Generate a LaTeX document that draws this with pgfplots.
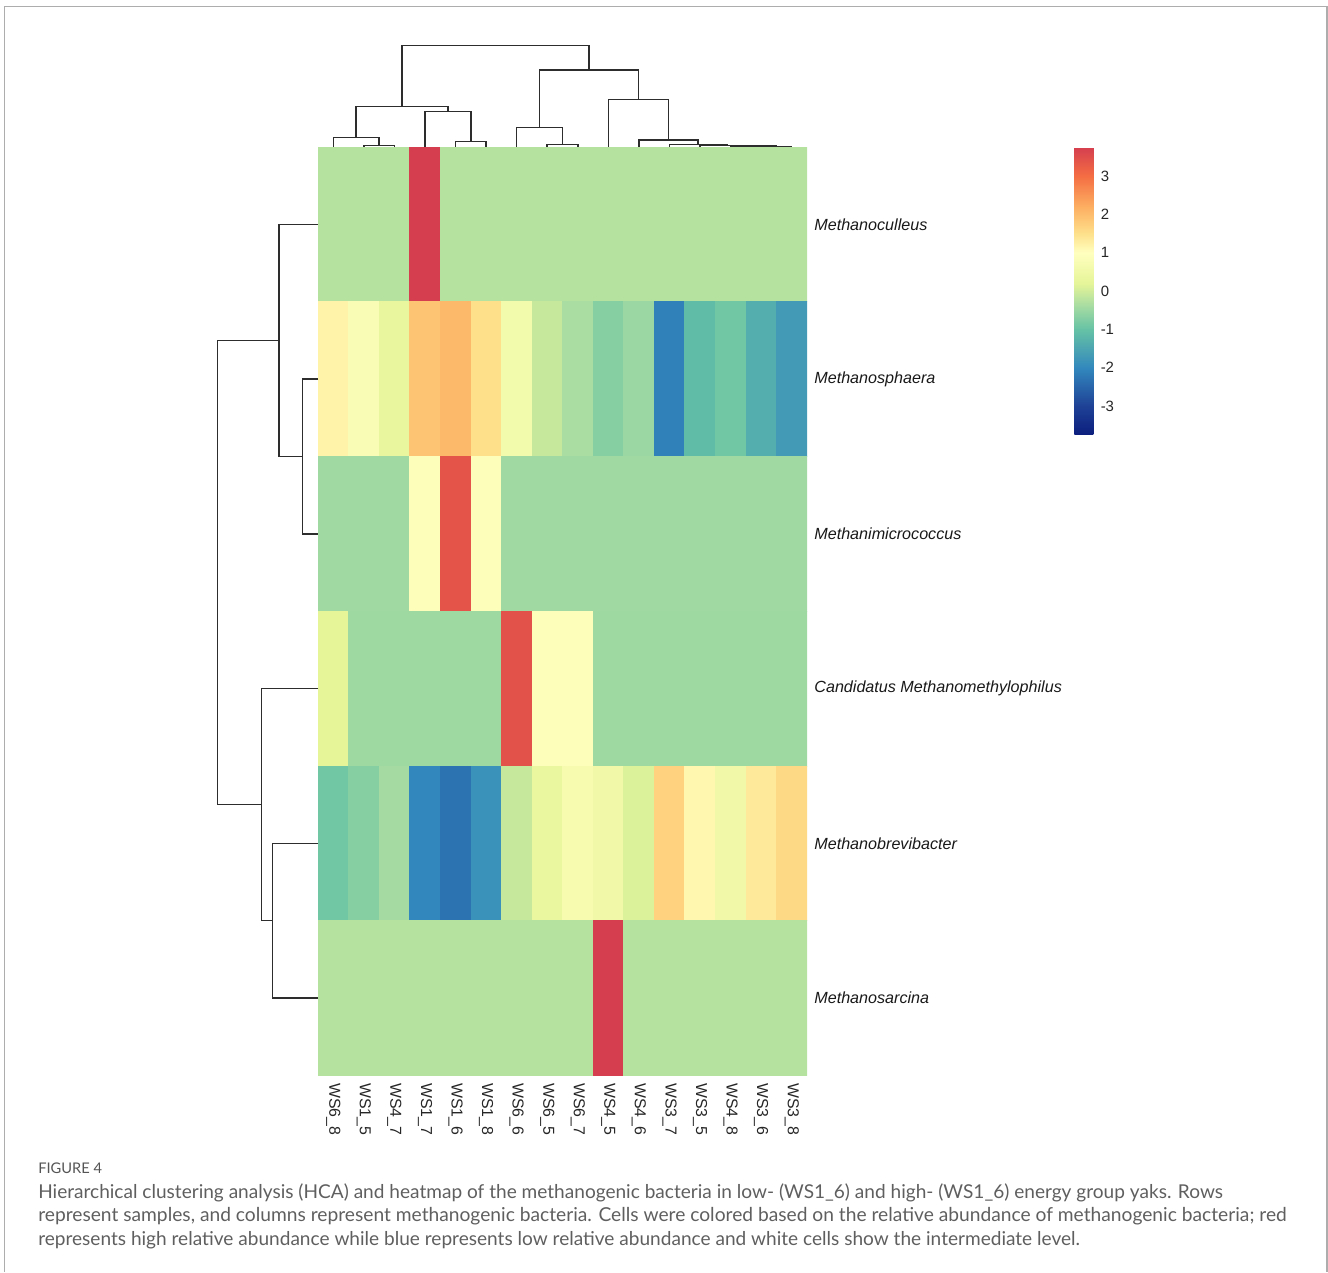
\documentclass[border=0pt]{standalone}
\usepackage{pgfplots}
\pgfplotsset{compat=1.18}
\usepackage{fontspec}
\setmainfont{Liberation Sans}
\newfontfamily\capfont{Lato}
\definecolor{dend}{RGB}{45,45,45}
\definecolor{capgray}{RGB}{95,95,95}
\pgfplotsset{colormap={spec}{
 rgb255(0pt)=(12,30,125)
 rgb255(75pt)=(30,65,150)
 rgb255(175pt)=(50,136,189)
 rgb255(275pt)=(102,194,165)
 rgb255(335pt)=(165,219,162)
 rgb255(395pt)=(230,245,152)
 rgb255(475pt)=(255,255,191)
 rgb255(525pt)=(254,224,139)
 rgb255(595pt)=(253,174,97)
 rgb255(675pt)=(244,109,67)
 rgb255(750pt)=(213,62,79)}}
\pgfplotsset{dendro/.style={draw=dend, line width=1.1pt, no marks, line join=miter}}
\begin{document}
\begin{tikzpicture}
\begin{scope}[x=0.75pt,y=0.75pt]
\path[use as bounding box] (0,0) rectangle (1328,1272);
\draw[black!32, line width=1.3pt] (4.5,0) -- (4.5,1265.5) -- (1327,1265.5) -- (1327,0);
\node[anchor=base west, inner sep=0pt, font=\capfont\fontsize{11}{12}\selectfont, text=capgray!90!black] at (38,99) {FIGURE 4};
\node[anchor=base west, inner sep=0pt, font=\capfont\fontsize{14.3}{16}\selectfont, text=capgray] at (38,74) {Hierarchical clustering analysis (HCA) and heatmap of the methanogenic bacteria in low- (WS1\_6) and high- (WS1\_6) energy group yaks. Rows};
\node[anchor=base west, inner sep=0pt, font=\capfont\fontsize{14.4}{16}\selectfont, text=capgray] at (38,50.5) {represent samples, and columns represent methanogenic bacteria. Cells were colored based on the relative abundance of methanogenic bacteria; red};
\node[anchor=base west, inner sep=0pt, font=\capfont\fontsize{14.3}{16}\selectfont, text=capgray] at (38,27) {represents high relative abundance while blue represents low relative abundance and white cells show the intermediate level.};
\end{scope}

% heatmap
\begin{axis}[
 at={(238.5pt,843.75pt)}, anchor=north west,
 scale only axis, width=366.75pt, height=696.375pt,
 xmin=-0.5, xmax=15.5, ymin=-0.5, ymax=5.5, y dir=reverse,
 axis line style={draw=none}, major tick length=0pt,
 xtick={0,...,15},
 xticklabels={WS6\_8,WS1\_5,WS4\_7,WS1\_7,WS1\_6,WS1\_8,WS6\_6,WS6\_5,WS6\_7,WS4\_5,WS4\_6,WS3\_7,WS3\_5,WS4\_8,WS3\_6,WS3\_8},
 xticklabel style={rotate=-90, anchor=west, font=\fontsize{11.9}{12}\selectfont, text=black!85, xshift=2.2pt},
 ytick={0,...,5},
 yticklabels={Methanoculleus,Methanosphaera,Methanimicrococcus,Candidatus Methanomethylophilus,Methanobrevibacter,Methanosarcina},
 yticklabel pos=right,
 yticklabel style={anchor=west, font=\itshape\fontsize{12.1}{12}\selectfont, text=black!90, xshift=2pt},
 colormap name=spec, point meta min=-3.755, point meta max=3.755,
 colorbar,
 colorbar style={
  at={(parent axis.north east)}, anchor=north west, xshift=192pt,
  width=14.25pt, height=216pt,
  axis line style={draw=none}, major tick length=0pt,
  ytick={-3,-2,-1,0,1,2,3}, yticklabels={-3,-2,-1,0,1,2,3},
  yticklabel style={font=\fontsize{11.2}{12}\selectfont, text=black!85, xshift=2pt},
 },
]
\addplot[matrix plot*, mesh/cols=16, point meta=explicit] table[meta=c] {
x y c
0 0 -0.25
1 0 -0.25
2 0 -0.25
3 0 3.75
4 0 -0.25
5 0 -0.25
6 0 -0.25
7 0 -0.25
8 0 -0.25
9 0 -0.25
10 0 -0.25
11 0 -0.25
12 0 -0.25
13 0 -0.25
14 0 -0.25
15 0 -0.25
0 1 1.2
1 1 0.8
2 1 0.3
3 1 1.9
4 1 2.05
5 1 1.5
6 1 0.6
7 1 -0.1
8 1 -0.35
9 1 -0.7
10 1 -0.5
11 1 -2.1
12 1 -1.1
13 1 -0.9
14 1 -1.35
15 1 -1.7
0 2 -0.45
1 2 -0.45
2 2 -0.45
3 2 0.9
4 2 3.4
5 2 0.9
6 2 -0.45
7 2 -0.45
8 2 -0.45
9 2 -0.45
10 2 -0.45
11 2 -0.45
12 2 -0.45
13 2 -0.45
14 2 -0.45
15 2 -0.45
0 3 0.2
1 3 -0.46
2 3 -0.46
3 3 -0.46
4 3 -0.46
5 3 -0.46
6 3 3.45
7 3 0.9
8 3 0.9
9 3 -0.46
10 3 -0.46
11 3 -0.46
12 3 -0.46
13 3 -0.46
14 3 -0.46
15 3 -0.46
0 4 -0.9
1 4 -0.7
2 4 -0.4
3 4 -2.0
4 4 -2.3
5 4 -1.85
6 4 -0.1
7 4 0.35
8 4 0.7
9 4 0.55
10 4 0.1
11 4 1.7
12 4 1.15
13 4 0.55
14 4 1.35
15 4 1.6
0 5 -0.25
1 5 -0.25
2 5 -0.25
3 5 -0.25
4 5 -0.25
5 5 -0.25
6 5 -0.25
7 5 -0.25
8 5 -0.25
9 5 3.75
10 5 -0.25
11 5 -0.25
12 5 -0.25
13 5 -0.25
14 5 -0.25
15 5 -0.25
};
\end{axis}

% top dendrogram
\begin{axis}[
 at={(238.5pt,843.75pt)}, anchor=south west,
 scale only axis, width=366.75pt, height=76.5pt,
 xmin=-0.5, xmax=15.5, ymin=0, ymax=102, hide axis, clip=false]
\addplot[dendro] coordinates {(1,0) (1,1.3) (2,1.3) (2,0)};
\addplot[dendro] coordinates {(0,0) (0,9.3) (1.5,9.3) (1.5,1.3)};
\addplot[dendro] coordinates {(4,0) (4,5.3) (5,5.3) (5,0)};
\addplot[dendro] coordinates {(3,0) (3,35.3) (4.5,35.3) (4.5,5.3)};
\addplot[dendro] coordinates {(0.75,9.3) (0.75,40.3) (3.75,40.3) (3.75,35.3)};
\addplot[dendro] coordinates {(7,0) (7,2.7) (8,2.7) (8,0)};
\addplot[dendro] coordinates {(6,0) (6,19.3) (7.5,19.3) (7.5,2.7)};
\addplot[dendro] coordinates {(14,0) (14,0.5) (15,0.5) (15,0)};
\addplot[dendro] coordinates {(13,0) (13,1.0) (14.5,1.0) (14.5,0.5)};
\addplot[dendro] coordinates {(12,0) (12,1.7) (13.75,1.7) (13.75,1.0)};
\addplot[dendro] coordinates {(11,0) (11,2.7) (12.875,2.7) (12.875,1.7)};
\addplot[dendro] coordinates {(10,0) (10,7) (11.9375,7) (11.9375,2.7)};
\addplot[dendro] coordinates {(9,0) (9,47.7) (10.96875,47.7) (10.96875,7)};
\addplot[dendro] coordinates {(6.75,19.3) (6.75,77) (9.984375,77) (9.984375,47.7)};
\addplot[dendro] coordinates {(2.25,40.3) (2.25,101.7) (8.3671875,101.7) (8.3671875,77)};
\end{axis}

% left dendrogram
\begin{axis}[
 at={(238.5pt,843.75pt)}, anchor=north east,
 scale only axis, width=75.75pt, height=696.375pt,
 xmin=0, xmax=101, x dir=reverse, ymin=-0.5, ymax=5.5, y dir=reverse,
 hide axis, clip=false]
\addplot[dendro] coordinates {(0,1) (15.3,1) (15.3,2) (0,2)};
\addplot[dendro] coordinates {(0,0) (39,0) (39,1.5) (15.3,1.5)};
\addplot[dendro] coordinates {(0,4) (45.7,4) (45.7,5) (0,5)};
\addplot[dendro] coordinates {(0,3) (56.3,3) (56.3,4.5) (45.7,4.5)};
\addplot[dendro] coordinates {(39,0.75) (100.7,0.75) (100.7,3.75) (56.3,3.75)};
\end{axis}
\end{tikzpicture}
\end{document}
